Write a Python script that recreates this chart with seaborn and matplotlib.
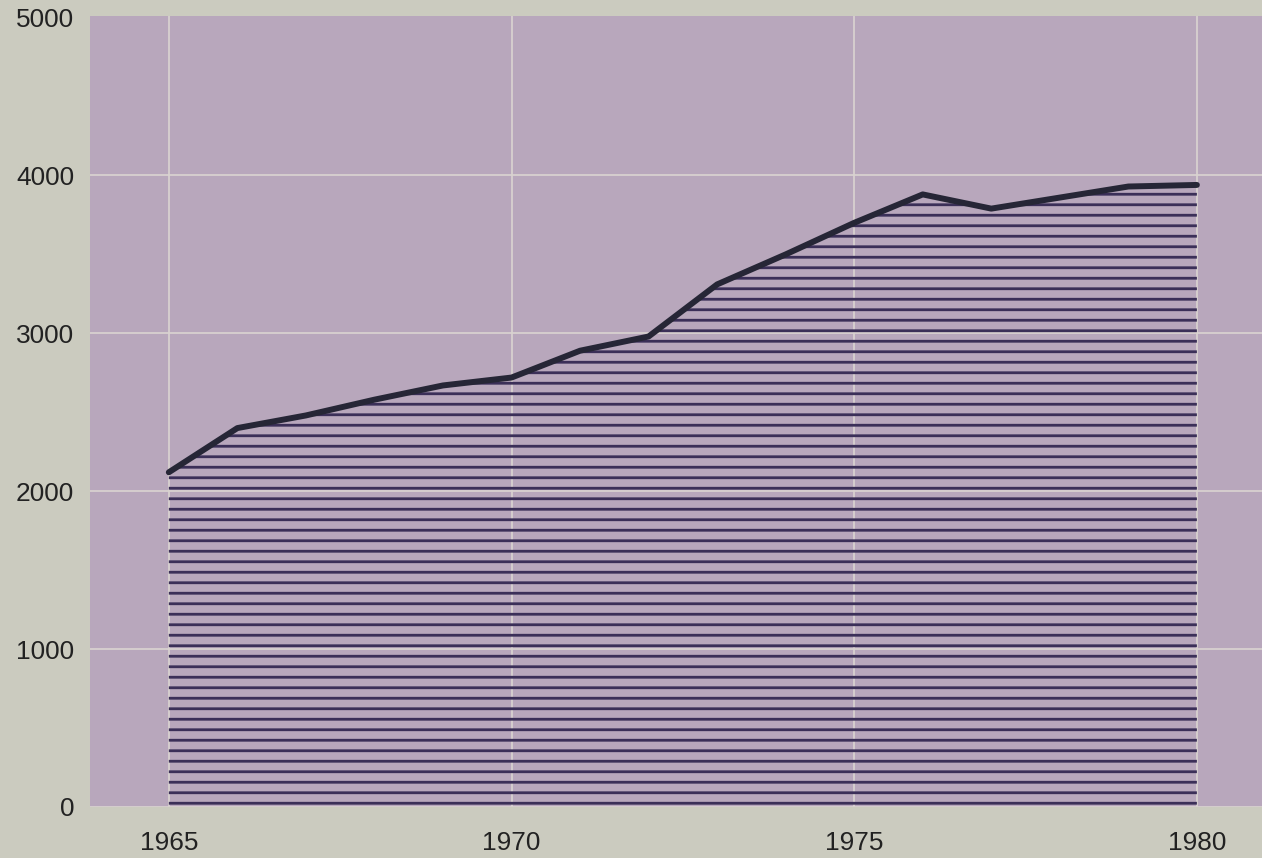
import numpy as np
import pandas as pd
import matplotlib
matplotlib.use("Agg")
import matplotlib.pyplot as plt
import seaborn as sns

# values
years = [1965, 1966, 1967, 1968, 1969, 1970, 1971, 1972,
         1973, 1974, 1975, 1976, 1977, 1978, 1979, 1980]
values = [2120, 2400, 2480, 2580, 2670, 2720, 2890, 2980,
          3310, 3500, 3700, 3880, 3790, 3860, 3930, 3940]
xticks = [1965, 1970, 1975, 1980]
yticks = [0, 1000, 2000, 3000, 4000, 5000]

bg = "#cbcbbf"
panel = "#b8a7bc"

sns.set_theme(style="whitegrid", rc={
    "figure.facecolor": bg,
    "axes.facecolor": panel,
    "grid.color": "#d9d2d0",
    "grid.linewidth": 1.0,
    "hatch.linewidth": 1.6,
})
plt.rcParams["font.family"] = ["Liberation Sans", "DejaVu Sans"]

df = pd.DataFrame({"year": years, "value": values})

fig = plt.figure(figsize=(1262 / 126, 858 / 126), dpi=126)
ax = fig.add_axes([90 / 1262, 1 - 807 / 858, 1 - 90 / 1262, (807 - 16) / 858])

ax.fill_between(df["year"], 0, df["value"], facecolor="none",
                edgecolor="#3b2f58", linewidth=0, hatch="--", zorder=2)
sns.lineplot(data=df, x="year", y="value", ax=ax, color="#262636",
             linewidth=3.4, zorder=3)

ax.set_xlim(1963.85, 1980.95)
ax.set_ylim(0, 5010)
ax.set_xticks(xticks)
ax.set_yticks(yticks)
ax.set_xticklabels([str(x) for x in xticks])
ax.set_yticklabels([str(y) for y in yticks])
ax.set_xlabel("")
ax.set_ylabel("")
ax.tick_params(axis="x", length=0, pad=14, labelsize=15, labelcolor="#222222")
ax.tick_params(axis="y", length=0, pad=9, labelsize=15, labelcolor="#222222")
# top edge of the panel carries no visible grid line
ax.yaxis.get_gridlines()[-1].set_visible(False)
for s in ax.spines.values():
    s.set_visible(False)

fig.savefig("out.png", dpi=126, facecolor=bg)
